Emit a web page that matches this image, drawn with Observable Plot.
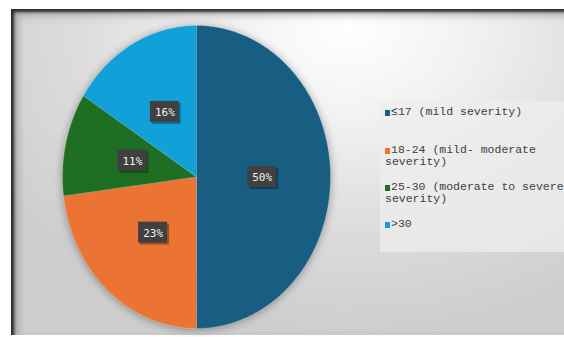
<!DOCTYPE html>
<html><head><meta charset="utf-8">
<script src="https://cdn.jsdelivr.net/npm/d3@7"></script>
<script src="https://cdn.jsdelivr.net/npm/@observablehq/plot@0.6"></script>
<style>
body{margin:0;width:564px;height:337px;overflow:hidden;background:#fff;position:relative;font-family:"Liberation Mono","DejaVu Sans Mono",monospace}
#frame{position:absolute;left:11px;top:9px;width:560px;height:326px;
 background:radial-gradient(ellipse 75% 95% at 60% 6%, #ffffff 0%, #f2f2f2 28%, #dcdcdc 65%, #cdcdcd 100%);
 box-shadow: inset 3px 3px 3px rgba(0,0,0,0.75), inset 6px 6px 8px rgba(0,0,0,0.25);}
#chart{position:absolute;left:0;top:0}
#legend{position:absolute;left:380px;top:101px;width:190px;height:151px;background:rgba(238,238,238,0.75)}
.item{position:absolute;left:5px;width:185px;font-size:11.5px;line-height:12px;color:#404040}
.sw{display:inline-block;width:5px;height:6px;margin-right:1px;vertical-align:-1px}
</style></head>
<body>
<div id="frame"></div>
<div id="chart"></div>
<div id="legend"></div>
<script>
const categories = ["≤17 (mild severity)", "18-24 (mild- moderate severity)", "25-30 (moderate to severe severity)", ">30"];
const values = [50, 23, 11, 16];
const labels = ["50%", "23%", "11%", "16%"];
const colors = ["#175e82", "#eb7333", "#1e6e23", "#12a0d8"];
const legendTops = [5, 43, 80, 117];

const arcs = d3.pie().sort(null).value(d => d)(values);
const pts = [];
arcs.forEach((a, i) => {
  pts.push({k: categories[i], x: 0, y: 0});
  const n = Math.max(2, Math.ceil((a.endAngle - a.startAngle) / 0.01));
  for (let j = 0; j <= n; j++) {
    const t = a.startAngle + (a.endAngle - a.startAngle) * j / n;
    pts.push({k: categories[i], x: Math.sin(t), y: Math.cos(t)});
  }
});
const lr = 0.49, bw = 14.5 / 134, bh = 10.5 / 151.5;
const lab = arcs.map((a, i) => {
  const m = (a.startAngle + a.endAngle) / 2;
  return {k: categories[i], t: labels[i], x: lr * Math.sin(m), y: lr * Math.cos(m)};
});

const plot = Plot.plot({
  width: 564, height: 337,
  margin: 0,
  x: {domain: [-1, 1], range: [62, 330], axis: null},
  y: {domain: [-1, 1], range: [328, 25], axis: null},
  color: {domain: categories, range: colors},
  style: {background: "transparent", overflow: "visible"},
  marks: [
    Plot.line(pts, {x: "x", y: "y", z: "k", fill: "k", stroke: "#ffffff", strokeOpacity: 0.35, strokeWidth: 0.6, className: "pie"}),
    Plot.rect(lab, {x1: d => d.x - bw, x2: d => d.x + bw, y1: d => d.y - bh, y2: d => d.y + bh, dx: 2, dy: 2, fill: "#000", fillOpacity: 0.3}),
    Plot.rect(lab, {x1: d => d.x - bw, x2: d => d.x + bw, y1: d => d.y - bh, y2: d => d.y + bh, fill: "#404040"}),
    Plot.text(lab, {x: "x", y: "y", text: "t", fill: "#f2f2f2", fontSize: 11, fontFamily: "DejaVu Sans Mono", dy: 0.5})
  ]
});
document.getElementById("chart").appendChild(plot);
d3.select(plot).selectAll("g[aria-label=line]").style("filter", "drop-shadow(0px 1px 4px rgba(0,0,0,0.35))");

const lg = d3.select("#legend");
categories.forEach((c, i) => {
  const it = lg.append("div").attr("class", "item").style("top", legendTops[i] + "px");
  it.append("span").attr("class", "sw").style("background", colors[i]);
  it.append("span").text(c);
});
</script>
</body></html>
